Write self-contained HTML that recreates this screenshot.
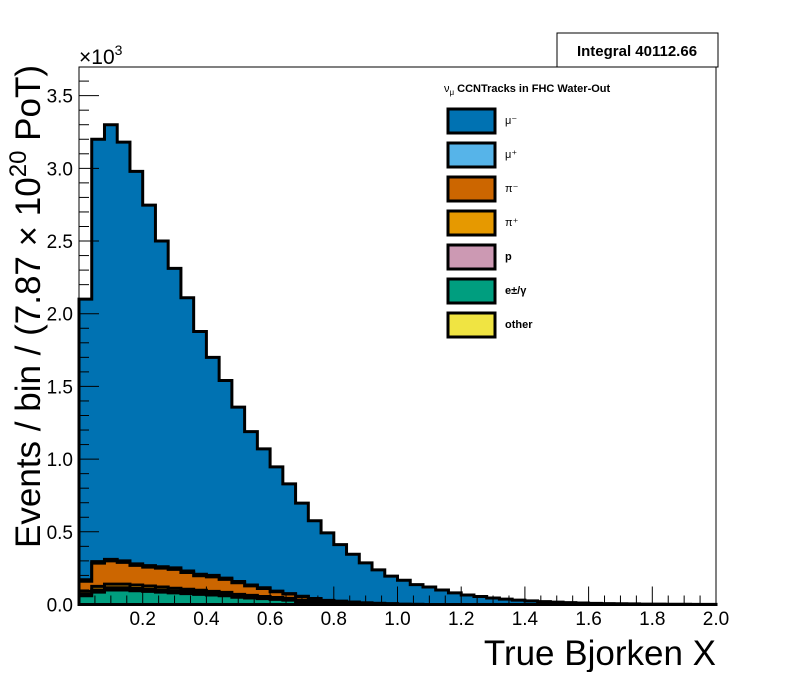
<!DOCTYPE html>
<html><head><meta charset="utf-8"><style>
body{margin:0;background:#fff}
svg text{font-family:"Liberation Sans",sans-serif}
</style></head><body>
<svg id="c" width="796" height="672" viewBox="0 0 796 672"></svg>
<script>
const binEdges0 = 0, binWidth = 0.04;
const muMinus = [1.93,2.905,2.99,2.88,2.70,2.48,2.24,2.06,1.88,1.67,1.50,1.36,1.20,1.055,0.955,0.855,0.755,0.64,0.535,0.465,0.39,0.33,0.275,0.23,0.19,0.165,0.136,0.12,0.10,0.08,0.065,0.055,0.045,0.037,0.03,0.025,0.02,0.016,0.013,0.01,0.008,0.006,0.005,0.004,0.003,0.003,0.002,0.002,0.001,0.001];
const muPlus = [0.01,0.01,0.01,0.01,0.01,0.01,0.01,0.01,0.01,0.01,0.01,0.008,0.008,0.006,0.005,0.004,0.003,0.002,0.002,0.001];
const piMinus = [0.07,0.16,0.16,0.15,0.135,0.13,0.13,0.13,0.115,0.10,0.10,0.09,0.08,0.065,0.055,0.04,0.03,0.025,0.015,0.01,0.01,0.008,0.006,0.004,0.003,0.002,0.001];
const piPlus = [0.02,0.025,0.025,0.025,0.024,0.023,0.022,0.02,0.019,0.018,0.016,0.015,0.013,0.012,0.01,0.009,0.008,0.007,0.006,0.005,0.004,0.003,0.002,0.002,0.001];
const proton = [0.01,0.015,0.015,0.015,0.015,0.014,0.013,0.012,0.011,0.01,0.009,0.008,0.007,0.006,0.005,0.004,0.004,0.003,0.003,0.002];
const eGamma = [0.06,0.085,0.10,0.10,0.095,0.09,0.085,0.08,0.075,0.07,0.065,0.06,0.05,0.045,0.04,0.035,0.03,0.02,0.015,0.01,0.008,0.005,0.003,0.002,0.001];
const other = [];
const xTicks = ["0.2","0.4","0.6","0.8","1.0","1.2","1.4","1.6","1.8","2.0"];
const yTicks = ["0.0","0.5","1.0","1.5","2.0","2.5","3.0","3.5"];
const legendLabels = ["μ⁻","μ⁺","π⁻","π⁺","p","e±/γ","other"];

const NS="http://www.w3.org/2000/svg", svg=document.getElementById('c');
const X0=79,X1=716,Y0=604.5,YT=67, xMax=2.0, yMax=3.697;
const sx=v=>X0+(v/xMax)*(X1-X0), sy=v=>Y0-(v/yMax)*(Y0-YT);
function el(t,a,p){const e=document.createElementNS(NS,t);for(const k in a)e.setAttribute(k,a[k]);(p||svg).appendChild(e);return e;}

const comps=[eGamma,proton,piPlus,piMinus,muPlus,muMinus,other];
const colors=["#009e7f","#cc99b3","#e69900","#cc6600","#56b4e9","#0072b2","#f0e442"];
const names=["hist-e-gamma","hist-proton","hist-pi-plus","hist-pi-minus","hist-mu-plus","hist-mu-minus"];
const N=50;
const cum=[];let run=new Array(N).fill(0);
for(let c=0;c<6;c++){run=run.map((v,i)=>v+(comps[c][i]||0));cum.push(run.slice());}
const g=el('g',{});
for(let c=5;c>=0;c--){
  let d=`M${sx(0)},${sy(0)}`;
  for(let i=0;i<N;i++){const a=sx(binEdges0+i*binWidth),b=sx(binEdges0+(i+1)*binWidth),y=sy(cum[c][i]);d+=` L${a},${y} L${b},${y}`;}
  d+=` L${sx(xMax)},${sy(0)} Z`;
  const p=el('path',{d,fill:colors[c],stroke:'#000','stroke-width':3,'stroke-linejoin':'miter'},g);
  
  
}
const fr=el('rect',{x:X0,y:YT,width:X1-X0,height:Y0-YT,fill:'none',stroke:'#000','stroke-width':1});

for(let v=0;v<=3.7;v+=0.1){const y=sy(v);const maj=Math.abs(v/0.5-Math.round(v/0.5))<1e-6;el('line',{x1:X0,x2:X0+(maj?20:10),y1:y,y2:y,stroke:'#000','stroke-width':1});}
yTicks.forEach(t=>{const e=el('text',{x:73,y:sy(parseFloat(t))+7,'text-anchor':'end','font-size':19,fill:'#000'});e.textContent=t;});
for(let v=0;v<=2.0001;v+=0.05){const x=sx(v);const maj=Math.abs(v/0.2-Math.round(v/0.2))<1e-6;el('line',{x1:x,x2:x,y1:Y0,y2:Y0-(maj?18:9),stroke:'#000','stroke-width':1});}
xTicks.forEach(t=>{const e=el('text',{x:sx(parseFloat(t)),y:625,'text-anchor':'middle','font-size':19,fill:'#000'});e.textContent=t;});
let e=el('text',{x:79,y:64,'font-size':21});e.innerHTML='×10<tspan dy="-9" font-size="14">3</tspan>';

e=el('text',{x:716,y:665,'text-anchor':'end','font-size':35});e.textContent='True Bjorken X';

e=el('text',{x:0,y:0,'text-anchor':'end','font-size':35,transform:'translate(40,65) rotate(-90)'});
e.innerHTML='Events / bin / (7.87 × 10<tspan dy="-14" font-size="24">20</tspan><tspan dy="14"> PoT)</tspan>';

const ib=el('g',{});
el('rect',{x:557,y:33,width:161,height:34,fill:'#fff',stroke:'#000','stroke-width':1},ib);
el('text',{x:637,y:56,'text-anchor':'middle','font-size':15,'font-weight':'bold'},ib).textContent='Integral 40112.66';
const lg=el('g',{});
e=el('text',{x:444,y:92,'font-size':11,'font-weight':'bold'},lg);
e.innerHTML='<tspan font-weight="normal">ν</tspan><tspan dy="3" font-size="8" font-weight="normal">μ</tspan><tspan dy="-3"> CCNTracks in FHC Water-Out</tspan>';
legendLabels.forEach((l,i)=>{
  const y=109+i*34;
  const r=el('rect',{x:448,y:y,width:47,height:24,fill:colors[i===0?5:i===1?4:i===2?3:i===3?2:i===4?1:i===5?0:6],stroke:'#000','stroke-width':3},lg);
  
  const t=el('text',{x:505,y:y+15,'font-size':11,'font-weight':(i>=4?'bold':'normal')},lg);t.textContent=l;
  
});
</script>
</body></html>
